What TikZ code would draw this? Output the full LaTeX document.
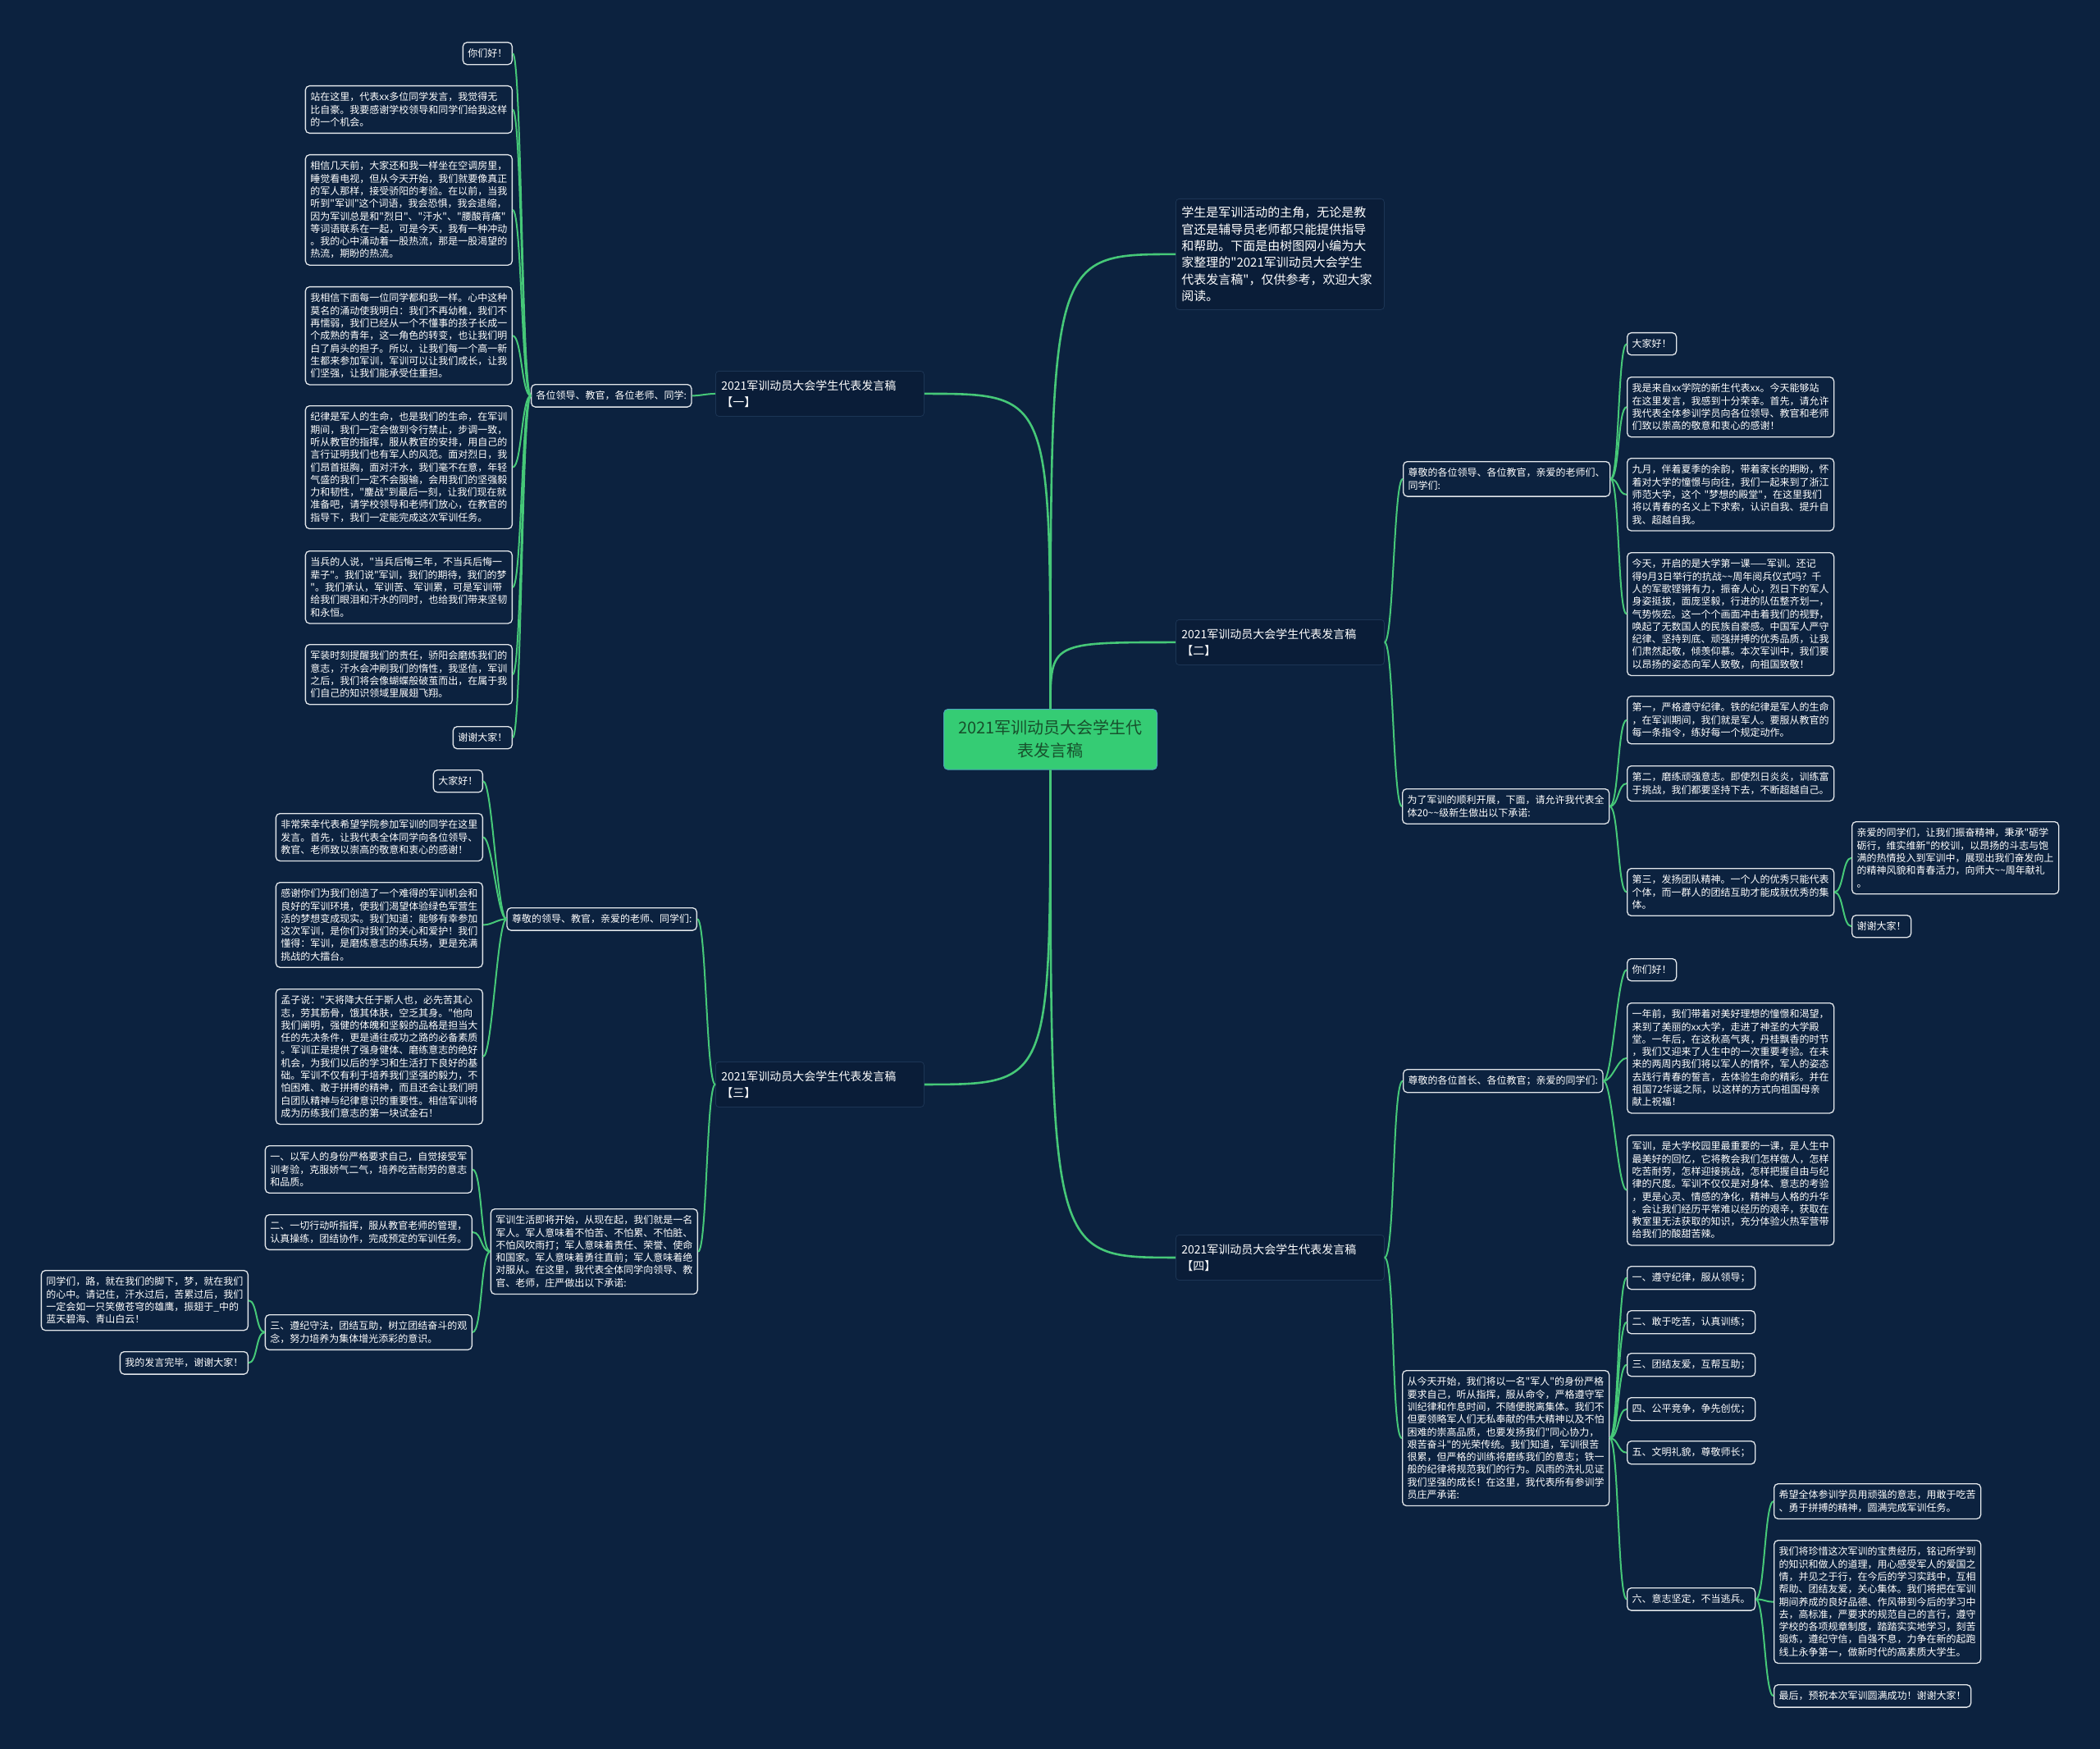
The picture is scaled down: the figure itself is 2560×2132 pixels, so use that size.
\documentclass[tikz,border=0pt]{standalone}
\usepackage{fontspec}
\setmainfont{Noto Sans CJK SC}[Ligatures=TeXOff]
\usetikzlibrary{positioning}

\definecolor{bgnavy}{HTML}{0C223F}
\definecolor{boxnavy}{HTML}{0A1D38}
\definecolor{boxedge}{HTML}{1C3555}
\definecolor{leafline}{HTML}{E2E6EA}
\definecolor{linkgreen}{HTML}{46C878}
\definecolor{rootgreen}{HTML}{35CC74}
\definecolor{rootedge}{HTML}{4AA9B8}
\definecolor{roottext}{HTML}{17502C}

\newcommand{\tld}{\textasciitilde}

\tikzset{
  leaf/.style={draw=leafline, fill=bgnavy, rounded corners=5pt, line width=1.3pt,
    text=white, inner xsep=6pt, inner ysep=8pt, align=left,
    font=\fontsize{12}{15.3}\selectfont},
  wide/.style={text width=240pt},
  branch/.style={draw=boxedge, fill=boxnavy, rounded corners=4pt, line width=0.8pt,
    text=white, inner xsep=7pt, inner ysep=11pt, align=left, text width=240pt,
    font=\fontsize{14}{20}\selectfont},
  intro/.style={branch, inner ysep=9.5pt, font=\fontsize{15}{20.4}\selectfont},
  root/.style={draw=rootedge, fill=rootgreen, rounded corners=5pt, line width=1pt,
    text=roottext, inner xsep=12pt, inner ysep=13.5pt, align=center, text width=236pt,
    font=\fontsize{20}{28}\selectfont},
  link/.style={draw=linkgreen, line width=2pt},
  mainlink/.style={draw=linkgreen, line width=2.6pt}
}

\begin{document}
\begin{tikzpicture}[x=1pt, y=-1pt]
\fill[bgnavy] (0,0) rectangle (2560,2132);
\useasboundingbox (0,0) rectangle (2560,2132);

% centre and main branches
\node[root, anchor=north west] (root) at (1150,864) {2021军训动员大会学生代\\表发言稿};
\node[intro, anchor=north west] (intro) at (1433,242) {学生是军训活动的主角，无论是教\\官还是辅导员老师都只能提供指导\\和帮助。下面是由树图网小编为大\\家整理的"2021军训动员大会学生\\代表发言稿"，仅供参考，欢迎大家\\阅读。};
\node[branch, anchor=north west] (bone) at (872,452) {2021军训动员大会学生代表发言稿\\【一】};
\node[branch, anchor=north west] (btwo) at (1433,755) {2021军训动员大会学生代表发言稿\\【二】};
\node[branch, anchor=north west] (bthree) at (872,1294) {2021军训动员大会学生代表发言稿\\【三】};
\node[branch, anchor=north west] (bfour) at (1433,1505) {2021军训动员大会学生代表发言稿\\【四】};

% branch one
\node[leaf, anchor=north west] (alab) at (647,468) {各位领导、教官，各位老师、同学:};
\node[leaf, anchor=north east] (a1) at (625,51) {你们好！};
\node[leaf, wide, anchor=north east] (a2) at (625,104) {站在这里，代表xx多位同学发言，我觉得无\\比自豪。我要感谢学校领导和同学们给我这样\\的一个机会。};
\node[leaf, wide, anchor=north east] (a3) at (625,188) {相信几天前，大家还和我一样坐在空调房里，\\睡觉看电视，但从今天开始，我们就要像真正\\的军人那样，接受骄阳的考验。在以前，当我\\听到"军训"这个词语，我会恐惧，我会退缩，\\因为军训总是和"烈日"、"汗水"、"腰酸背痛"\\等词语联系在一起，可是今天，我有一种冲动\\。我的心中涌动着一股热流，那是一股渴望的\\热流，期盼的热流。};
\node[leaf, wide, anchor=north east] (a4) at (625,349) {我相信下面每一位同学都和我一样。心中这种\\莫名的涌动使我明白：我们不再幼稚，我们不\\再懦弱，我们已经从一个不懂事的孩子长成一\\个成熟的青年，这一角色的转变，也让我们明\\白了肩头的担子。所以，让我们每一个高一新\\生都来参加军训，军训可以让我们成长，让我\\们坚强，让我们能承受住重担。};
\node[leaf, wide, anchor=north east] (a5) at (625,494) {纪律是军人的生命，也是我们的生命，在军训\\期间，我们一定会做到令行禁止，步调一致，\\听从教官的指挥，服从教官的安排，用自己的\\言行证明我们也有军人的风范。面对烈日，我\\们昂首挺胸，面对汗水，我们毫不在意，年轻\\气盛的我们一定不会服输，会用我们的坚强毅\\力和韧性，"鏖战"到最后一刻，让我们现在就\\准备吧，请学校领导和老师们放心，在教官的\\指导下，我们一定能完成这次军训任务。};
\node[leaf, wide, anchor=north east] (a6) at (625,671) {当兵的人说，"当兵后悔三年，不当兵后悔一\\辈子"。我们说"军训，我们的期待，我们的梦\\"。我们承认，军训苦、军训累，可是军训带\\给我们眼泪和汗水的同时，也给我们带来坚韧\\和永恒。};
\node[leaf, wide, anchor=north east] (a7) at (625,785) {军装时刻提醒我们的责任，骄阳会磨炼我们的\\意志，汗水会冲刷我们的惰性，我坚信，军训\\之后，我们将会像蝴蝶般破茧而出，在属于我\\们自己的知识领域里展翅飞翔。};
\node[leaf, anchor=north east] (a8) at (625,885) {谢谢大家！};

% branch two
\node[leaf, wide, anchor=north west] (blaba) at (1710,562) {尊敬的各位领导、各位教官，亲爱的老师们、\\同学们:};
\node[leaf, wide, anchor=north west] (blabb) at (1709,961) {为了军训的顺利开展，下面，请允许我代表全\\体20\tld\tld 级新生做出以下承诺:};
\node[leaf, anchor=north west] (b1) at (1983,405) {大家好！};
\node[leaf, wide, anchor=north west] (b2) at (1983,459) {我是来自xx学院的新生代表xx。今天能够站\\在这里发言，我感到十分荣幸。首先，请允许\\我代表全体参训学员向各位领导、教官和老师\\们致以崇高的敬意和衷心的感谢！};
\node[leaf, wide, anchor=north west] (b3) at (1983,558) {九月，伴着夏季的余韵，带着家长的期盼，怀\\着对大学的憧憬与向往，我们一起来到了浙江\\师范大学，这个~"梦想的殿堂"，在这里我们\\将以青春的名义上下求索，认识自我、提升自\\我、超越自我。};
\node[leaf, wide, anchor=north west] (b4) at (1983,673) {今天，开启的是大学第一课——军训。还记\\得9月3日举行的抗战\tld\tld 周年阅兵仪式吗？千\\人的军歌铿锵有力，振奋人心，烈日下的军人\\身姿挺拔，面庞坚毅，行进的队伍整齐划一，\\气势恢宏。这一个个画面冲击着我们的视野，\\唤起了无数国人的民族自豪感。中国军人严守\\纪律、坚持到底、顽强拼搏的优秀品质，让我\\们肃然起敬，倾羡仰慕。本次军训中，我们要\\以昂扬的姿态向军人致敬，向祖国致敬！};
\node[leaf, wide, anchor=north west] (b5) at (1983,848) {第一，严格遵守纪律。铁的纪律是军人的生命\\，在军训期间，我们就是军人。要服从教官的\\每一条指令，练好每一个规定动作。};
\node[leaf, wide, anchor=north west] (b6) at (1983,933) {第二，磨练顽强意志。即使烈日炎炎，训练富\\于挑战，我们都要坚持下去，不断超越自己。};
\node[leaf, wide, anchor=north west] (b7) at (1983,1058) {第三，发扬团队精神。一个人的优秀只能代表\\个体，而一群人的团结互助才能成就优秀的集\\体。};
\node[leaf, wide, anchor=north west] (b8) at (2257,1001) {亲爱的同学们，让我们振奋精神，秉承"砺学\\砺行，维实维新"的校训，以昂扬的斗志与饱\\满的热情投入到军训中，展现出我们奋发向上\\的精神风貌和青春活力，向师大\tld\tld 周年献礼\\。};
\node[leaf, anchor=north west] (b9) at (2257,1115) {谢谢大家！};

% branch three
\node[leaf, anchor=north east] (claba) at (850,1106) {尊敬的领导、教官，亲爱的老师、同学们:};
\node[leaf, wide, anchor=north east] (clabb) at (851,1473) {军训生活即将开始，从现在起，我们就是一名\\军人。军人意味着不怕苦、不怕累、不怕脏、\\不怕风吹雨打；军人意味着责任、荣誉、使命\\和国家。军人意味着勇往直前；军人意味着绝\\对服从。在这里，我代表全体同学向领导、教\\官、老师，庄严做出以下承诺:};
\node[leaf, anchor=north east] (c1) at (589,938) {大家好！};
\node[leaf, wide, anchor=north east] (c2) at (589,991) {非常荣幸代表希望学院参加军训的同学在这里\\发言。首先，让我代表全体同学向各位领导、\\教官、老师致以崇高的敬意和衷心的感谢！};
\node[leaf, wide, anchor=north east] (c3) at (589,1075) {感谢你们为我们创造了一个难得的军训机会和\\良好的军训环境，使我们渴望体验绿色军营生\\活的梦想变成现实。我们知道：能够有幸参加\\这次军训，是你们对我们的关心和爱护！我们\\懂得：军训，是磨炼意志的练兵场，更是充满\\挑战的大擂台。};
\node[leaf, wide, anchor=north east] (c4) at (589,1205) {孟子说："天将降大任于斯人也，必先苦其心\\志，劳其筋骨，饿其体肤，空乏其身。"他向\\我们阐明，强健的体魄和坚毅的品格是担当大\\任的先决条件，更是通往成功之路的必备素质\\。军训正是提供了强身健体、磨练意志的绝好\\机会，为我们以后的学习和生活打下良好的基\\础。军训不仅有利于培养我们坚强的毅力，不\\怕困难、敢于拼搏的精神，而且还会让我们明\\白团队精神与纪律意识的重要性。相信军训将\\成为历练我们意志的第一块试金石！};
\node[leaf, wide, anchor=north east] (c5) at (576,1396) {一、以军人的身份严格要求自己，自觉接受军\\训考验，克服娇气二气，培养吃苦耐劳的意志\\和品质。};
\node[leaf, wide, anchor=north east] (c6) at (576,1480) {二、一切行动听指挥，服从教官老师的管理，\\认真操练，团结协作，完成预定的军训任务。};
\node[leaf, wide, anchor=north east] (c7) at (576,1602) {三、遵纪守法，团结互助，树立团结奋斗的观\\念，努力培养为集体增光添彩的意识。};
\node[leaf, wide, anchor=north east] (c8) at (303,1548) {同学们，路，就在我们的脚下，梦，就在我们\\的心中。请记住，汗水过后，苦累过后，我们\\一定会如一只笑傲苍穹的雄鹰，振翅于\_中的\\蓝天碧海、青山白云！};
\node[leaf, anchor=north east] (c9) at (303,1647) {我的发言完毕，谢谢大家！};

% branch four
\node[leaf, anchor=north west] (dlaba) at (1710,1303) {尊敬的各位首长、各位教官；亲爱的同学们:};
\node[leaf, wide, anchor=north west] (dlabb) at (1709,1670) {从今天开始，我们将以一名"军人"的身份严格\\要求自己，听从指挥，服从命令，严格遵守军\\训纪律和作息时间，不随便脱离集体。我们不\\但要领略军人们无私奉献的伟大精神以及不怕\\困难的崇高品质，也要发扬我们"同心协力，\\艰苦奋斗"的光荣传统。我们知道，军训很苦\\很累，但严格的训练将磨练我们的意志；铁一\\般的纪律将规范我们的行为。风雨的洗礼见证\\我们坚强的成长！在这里，我代表所有参训学\\员庄严承诺:};
\node[leaf, anchor=north west] (d1) at (1983,1168) {你们好！};
\node[leaf, wide, anchor=north west] (d2) at (1983,1222) {一年前，我们带着对美好理想的憧憬和渴望，\\来到了美丽的xx大学，走进了神圣的大学殿\\堂。一年后，在这秋高气爽，丹桂飘香的时节\\，我们又迎来了人生中的一次重要考验。在未\\来的两周内我们将以军人的情怀，军人的姿态\\去践行青春的誓言，去体验生命的精彩。并在\\祖国72华诞之际，以这样的方式向祖国母亲\\献上祝福！};
\node[leaf, wide, anchor=north west] (d3) at (1983,1383) {军训，是大学校园里最重要的一课，是人生中\\最美好的回忆，它将教会我们怎样做人，怎样\\吃苦耐劳，怎样迎接挑战，怎样把握自由与纪\\律的尺度。军训不仅仅是对身体、意志的考验\\，更是心灵、情感的净化，精神与人格的升华\\。会让我们经历平常难以经历的艰辛，获取在\\教室里无法获取的知识，充分体验火热军营带\\给我们的酸甜苦辣。};
\node[leaf, anchor=north west] (d4) at (1983,1543) {一、遵守纪律，服从领导；};
\node[leaf, anchor=north west] (d5) at (1983,1597) {二、敢于吃苦，认真训练；};
\node[leaf, anchor=north west] (d6) at (1983,1649) {三、团结友爱，互帮互助；};
\node[leaf, anchor=north west] (d7) at (1983,1703) {四、公平竞争，争先创优；};
\node[leaf, anchor=north west] (d8) at (1983,1756) {五、文明礼貌，尊敬师长；};
\node[leaf, anchor=north west] (d9) at (1983,1935) {六、意志坚定，不当逃兵。};
\node[leaf, wide, anchor=north west] (d10) at (2162,1808) {希望全体参训学员用顽强的意志，用敢于吃苦\\、勇于拼搏的精神，圆满完成军训任务。};
\node[leaf, wide, anchor=north west] (d11) at (2162,1877) {我们将珍惜这次军训的宝贵经历，铭记所学到\\的知识和做人的道理，用心感受军人的爱国之\\情，并见之于行，在今后的学习实践中，互相\\帮助、团结友爱，关心集体。我们将把在军训\\期间养成的良好品德、作风带到今后的学习中\\去，高标准，严要求的规范自己的言行，遵守\\学校的各项规章制度，踏踏实实地学习，刻苦\\锻炼，遵纪守信，自强不息，力争在新的起跑\\线上永争第一，做新时代的高素质大学生。};
\node[leaf, anchor=north west] (d12) at (2162,2053) {最后，预祝本次军训圆满成功！谢谢大家！};

% connectors from the centre
\draw[mainlink] (root.north) .. controls (root.north |- bone.east) .. (bone.east);
\draw[mainlink] (root.north) .. controls (root.north |- intro.west) .. (intro.west);
\draw[mainlink] (root.north) .. controls (root.north |- btwo.west) .. (btwo.west);
\draw[mainlink] (root.south) .. controls (root.south |- bthree.east) .. (bthree.east);
\draw[mainlink] (root.south) .. controls (root.south |- bfour.west) .. (bfour.west);

% left side links
\draw[link] (bone.west) .. controls +(-10,0) and +(10,0) .. (alab.east);
\foreach \n in {a1,a2,a3,a4,a5,a6,a7,a8}
  \draw[link] (alab.west) .. controls +(-11,0) and +(11,0) .. (\n.east);
\foreach \n in {claba,clabb}
  \draw[link] (bthree.west) .. controls +(-11,0) and +(11,0) .. (\n.east);
\foreach \n in {c1,c2,c3,c4}
  \draw[link] (claba.west) .. controls +(-11,0) and +(11,0) .. (\n.east);
\foreach \n in {c5,c6,c7}
  \draw[link] (clabb.west) .. controls +(-12,0) and +(12,0) .. (\n.east);
\foreach \n in {c8,c9}
  \draw[link] (c7.west) .. controls +(-11,0) and +(11,0) .. (\n.east);

% right side links
\foreach \n in {blaba,blabb}
  \draw[link] (btwo.east) .. controls +(11,0) and +(-11,0) .. (\n.west);
\foreach \n in {b1,b2,b3,b4}
  \draw[link] (blaba.east) .. controls +(11,0) and +(-11,0) .. (\n.west);
\foreach \n in {b5,b6,b7}
  \draw[link] (blabb.east) .. controls +(11,0) and +(-11,0) .. (\n.west);
\foreach \n in {b8,b9}
  \draw[link] (b7.east) .. controls +(11,0) and +(-11,0) .. (\n.west);
\foreach \n in {dlaba,dlabb}
  \draw[link] (bfour.east) .. controls +(13,0) and +(-13,0) .. (\n.west);
\foreach \n in {d1,d2,d3}
  \draw[link] (dlaba.east) .. controls +(11,0) and +(-11,0) .. (\n.west);
\foreach \n in {d4,d5,d6,d7,d8,d9}
  \draw[link] (dlabb.east) .. controls +(11,0) and +(-11,0) .. (\n.west);
\foreach \n in {d10,d11,d12}
  \draw[link] (d9.east) .. controls +(11,0) and +(-11,0) .. (\n.west);
\end{tikzpicture}
\end{document}
